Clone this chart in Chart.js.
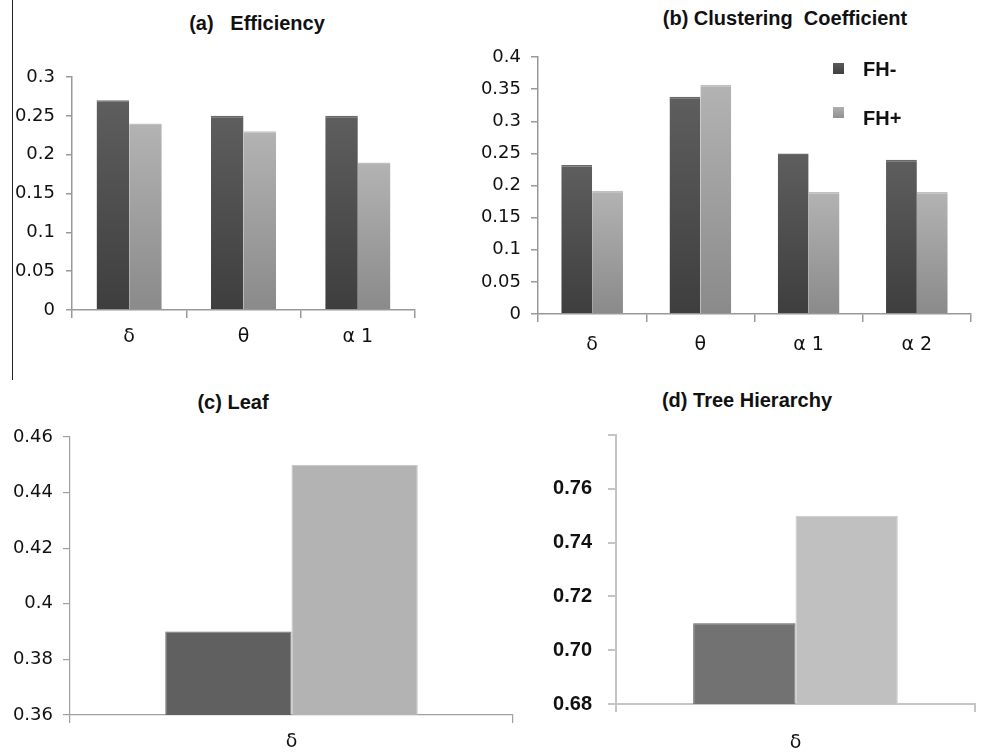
<!DOCTYPE html>
<html>
<head>
  <meta charset="utf-8" />
  <title>FH- / FH+ network measures</title>
  <script src="https://cdn.jsdelivr.net/npm/chart.js"></script>
  <style>
    body { margin: 0; background: #fff; width: 982px; height: 752px; position: relative; overflow: hidden; }
    .panel { position: absolute; }
    .ttl { position: absolute; width: 320px; text-align: center; font: bold 20px "Liberation Sans", Arial, sans-serif; color: #111; line-height: 24px; }
    .frame { position: absolute; left: 12px; top: 0; width: 0; height: 380px; border-left: 1.5px solid #222; }
    .leg { position: absolute; font: bold 20px "Liberation Sans", Arial, sans-serif; color: #111; line-height: 24px; }
    .leg i { position: absolute; left: -30px; top: 6px; width: 11px; height: 11px; }
  </style>
</head>
<body>
  <div class="frame"></div>

  <div class="ttl" style="left:97px; top:11px;">(a)&nbsp;&nbsp; Efficiency</div>
  <div class="ttl" style="left:625px; top:6px;">(b) Clustering&nbsp; Coefficient</div>
  <div class="ttl" style="left:73px; top:390px;">(c) Leaf</div>
  <div class="ttl" style="left:587px; top:388px;">(d) Tree Hierarchy</div>

  <div class="panel" style="left:0; top:40px; width:430px; height:320px;"><canvas id="effChart"></canvas></div>
  <div class="panel" style="left:440px; top:30px; width:542px; height:330px;"><canvas id="ccChart"></canvas></div>
  <div class="panel" style="left:0; top:420px; width:520px; height:332px;"><canvas id="leafChart"></canvas></div>
  <div class="panel" style="left:520px; top:420px; width:462px; height:332px;"><canvas id="treeChart"></canvas></div>

  <div class="leg" style="left:863px; top:57px;"><i style="background:linear-gradient(#5a5a5a,#404040);"></i>FH-</div>
  <div class="leg" style="left:863px; top:106px;"><i style="background:linear-gradient(#b0b0b0,#909090); top:1px;"></i>FH+</div>

  <script>
    // data
    const effLabels = ['δ', 'θ', 'α 1'];
    const effMinus = [0.27, 0.25, 0.25];
    const effPlus = [0.24, 0.23, 0.19];
    const effTicks = ['0', '0.05', '0.1', '0.15', '0.2', '0.25', '0.3'];

    const ccLabels = ['δ', 'θ', 'α 1', 'α 2'];
    const ccMinus = [0.232, 0.338, 0.25, 0.24];
    const ccPlus = [0.192, 0.357, 0.19, 0.19];
    const ccTicks = ['0', '0.05', '0.1', '0.15', '0.2', '0.25', '0.3', '0.35', '0.4'];

    const leafLabels = ['δ'];
    const leafMinus = [0.39];
    const leafPlus = [0.45];
    const leafTicks = ['0.36', '0.38', '0.4', '0.42', '0.44', '0.46'];

    const treeLabels = ['δ'];
    const treeMinus = [0.71];
    const treePlus = [0.75];
    const treeTicks = ['0.68', '0.70', '0.72', '0.74', '0.76', ''];

    // gradient from top of each bar down to the axis, like the Excel fill
    function barFill(top, bottom) {
      return function (c) {
        const chart = c.chart;
        const area = chart.chartArea;
        if (!area || !c.parsed) return top;
        const y0 = chart.scales.y.getPixelForValue(c.parsed.y);
        const g = chart.ctx.createLinearGradient(0, y0, 0, area.bottom);
        g.addColorStop(0, top);
        g.addColorStop(1, bottom);
        return g;
      };
    }

    function makeChart(id, cfg) {
      const tickFont = cfg.tickFont || { family: 'DejaVu Sans', size: 18 };
      return new Chart(document.getElementById(id), {
        type: 'bar',
        data: {
          labels: cfg.labels,
          datasets: [
            { label: 'FH-', data: cfg.minus, backgroundColor: cfg.darkFill,
              borderColor: cfg.darkEdge, borderWidth: cfg.edgeWidth, borderSkipped: 'bottom' },
            { label: 'FH+', data: cfg.plus, backgroundColor: cfg.lightFill,
              borderColor: cfg.lightEdge, borderWidth: cfg.edgeWidth, borderSkipped: 'bottom' }
          ]
        },
        options: {
          responsive: true,
          maintainAspectRatio: false,
          animation: false,
          layout: { padding: cfg.padding },
          datasets: { bar: { categoryPercentage: 0.57, barPercentage: 1.0 } },
          plugins: { legend: { display: false }, tooltip: { enabled: false } },
          scales: {
            x: {
              afterFit: (s) => { s.height = cfg.xHeight; s.paddingLeft = 0; s.paddingRight = 0; },
              border: { color: cfg.axisColor, width: cfg.axisWidth },
              grid: { offset: true, drawOnChartArea: false, tickLength: 8, color: cfg.axisColor, lineWidth: cfg.axisWidth },
              ticks: { color: '#111', font: { family: 'DejaVu Sans', size: 19 }, padding: cfg.xPad, maxRotation: 0 }
            },
            y: {
              min: cfg.min, max: cfg.max,
              afterFit: (s) => { s.width = cfg.yWidth; s.paddingTop = 0; s.paddingBottom = 0; },
              border: { color: cfg.axisColor, width: cfg.axisWidth },
              grid: { drawOnChartArea: false, tickLength: cfg.yTick, color: cfg.axisColor, lineWidth: cfg.axisWidth },
              ticks: {
                stepSize: cfg.step, color: '#111', font: tickFont, padding: cfg.yPad,
                callback: (v, i) => cfg.ticks[i]
              }
            }
          }
        }
      });
    }

    makeChart('effChart', {
      labels: effLabels, minus: effMinus, plus: effPlus, ticks: effTicks,
      min: 0, max: 0.3, step: 0.05,
      darkFill: barFill('#5e5e5e', '#3e3e3e'), lightFill: barFill('#b3b3b3', '#8a8a8a'),
      darkEdge: '#6a6a6a', lightEdge: '#c0c0c0', edgeWidth: { top: 1.5 },
      padding: { left: 0, top: 37, right: 15, bottom: 0 },
      yWidth: 72, xHeight: 50, xPad: 8, yTick: 6, yPad: 11,
      axisColor: '#999', axisWidth: 1.5
    });

    makeChart('ccChart', {
      labels: ccLabels, minus: ccMinus, plus: ccPlus, ticks: ccTicks,
      min: 0, max: 0.4, step: 0.05,
      darkFill: barFill('#5e5e5e', '#3e3e3e'), lightFill: barFill('#b3b3b3', '#8a8a8a'),
      darkEdge: '#6a6a6a', lightEdge: '#c0c0c0', edgeWidth: { top: 1.5 },
      padding: { left: 0, top: 27, right: 11, bottom: 0 },
      yWidth: 98, xHeight: 46, xPad: 12, yTick: 7, yPad: 10,
      axisColor: '#999', axisWidth: 1.5
    });

    makeChart('leafChart', {
      labels: leafLabels, minus: leafMinus, plus: leafPlus, ticks: leafTicks,
      min: 0.36, max: 0.46, step: 0.02,
      darkFill: '#606060', lightFill: '#b3b3b3',
      darkEdge: '#707070', lightEdge: '#c4c4c4', edgeWidth: 1,
      padding: { left: 0, top: 17, right: 7, bottom: 0 },
      yWidth: 70, xHeight: 37, xPad: 8, yTick: 7, yPad: 10,
      axisColor: '#a0a0a0', axisWidth: 1.2
    });

    makeChart('treeChart', {
      labels: treeLabels, minus: treeMinus, plus: treePlus, ticks: treeTicks,
      min: 0.68, max: 0.78, step: 0.02,
      darkFill: '#727272', lightFill: '#c0c0c0',
      darkEdge: '#5e5e5e', lightEdge: '#cccccc', edgeWidth: 1,
      tickFont: { family: 'Liberation Sans', size: 20, weight: 'bold' },
      padding: { left: 0, top: 15, right: 7, bottom: 0 },
      yWidth: 96, xHeight: 48, xPad: 20, yTick: 8, yPad: 16,
      axisColor: '#c4c4c4', axisWidth: 2
    });
  </script>
</body>
</html>
